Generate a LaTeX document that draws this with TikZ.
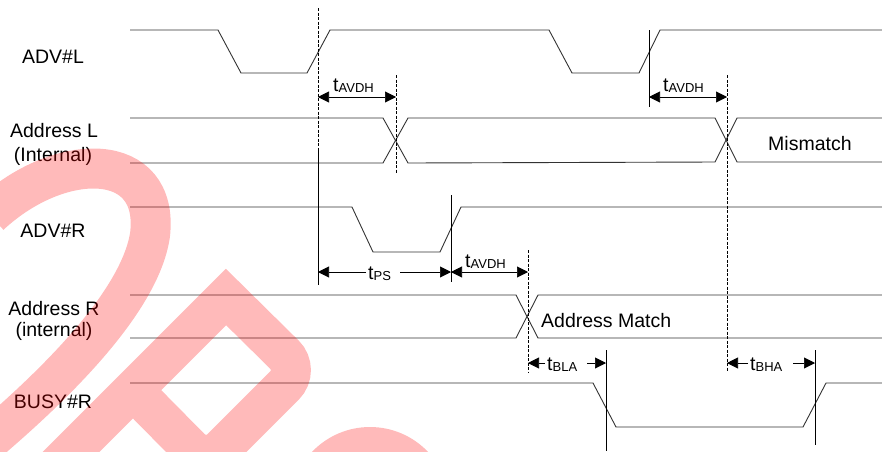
\documentclass[tikz,border=0pt]{standalone}
\usepackage{fontspec}
\setmainfont{Liberation Sans}
\usetikzlibrary{arrows.meta}

\newcommand{\tm}[1]{t\raisebox{-1pt}{\fontsize{13}{13}\selectfont #1}}

\begin{document}
\begin{tikzpicture}[x=1pt, y=-1pt,
    wave/.style={black!80, line width=0.9pt},
    guide/.style={black, line width=0.6pt},
    guidedash/.style={black, line width=0.6pt, dash pattern=on 3pt off 1.5pt},
    dimtwo/.style={black, line width=0.6pt, {Triangle[length=11pt,width=11pt]}-{Triangle[length=11pt,width=11pt]}},
    dimone/.style={black, line width=0.6pt, -{Triangle[length=11pt,width=11pt]}},
    lbl/.style={font=\fontsize{19.5}{22}\selectfont, anchor=base, inner sep=0pt},
    wmark/.style={red, opacity=0.27, line width=40pt}]

    \useasboundingbox (0,0) rectangle (882,451);

    % Signal names
    \foreach \n/\x/\y/\t in {advl/53/63/{ADV\#L}, adrl/54/137/{Address L}, adrli/53/161/{(Internal)},
        advr/53/237/{ADV\#R}, adrr/54/315/{Address R}, adrri/54/336/{(internal)}, busyr/53/408/{BUSY\#R}} {
        \node[lbl] (\n) at (\x, \y) {\t};
    }
    \node[lbl, anchor=base west] (mism) at (768, 150) {Mismatch};
    \node[lbl, anchor=base west] (amatch) at (541, 327) {Address Match};

    % Waveforms
    \draw[wave] (130,30) -- (218,30) -- (241,73) -- (307,73) -- (330,30) -- (549,30) -- (572,73) -- (639,73) -- (660,30) -- (882,30);
    \draw[wave] (130,118) -- (383,118) -- (408,163) -- (715,162) -- (737,118) -- (882,118);
    \draw[wave] (130,163) -- (383,163) -- (408,118) -- (715,118) -- (737,162) -- (882,162);
    \draw[wave] (130,207) -- (352,207) -- (373,252) -- (440,252) -- (461,207) -- (882,207);
    \draw[wave] (130,295) -- (516,295) -- (538,338) -- (882,338);
    \draw[wave] (130,338) -- (516,338) -- (538,295) -- (882,295);
    \draw[wave] (130,383) -- (593,383) -- (616,427) -- (803,427) -- (826,383) -- (882,383);

    % Timing references
    \coordinate (g1t) at (318,8);   \coordinate (g1m) at (318,150);  \coordinate (g1b) at (318,285);
    \coordinate (g2t) at (396,75);  \coordinate (g2b) at (396,173);
    \coordinate (g3t) at (649,30);  \coordinate (g3b) at (649,107);
    \coordinate (g4t) at (727,75);  \coordinate (g4b) at (727,372);
    \coordinate (g5t) at (451,195); \coordinate (g5b) at (451,282);
    \coordinate (g6t) at (528,250); \coordinate (g6b) at (528,373);
    \coordinate (g7t) at (606,350); \coordinate (g7b) at (606,451);
    \coordinate (g8t) at (815,350); \coordinate (g8b) at (815,445);
    \draw[guidedash] (g1t) -- (g1m);
    \draw[guide] (g1m) -- (g1b);
    \draw[guidedash] (g2t) -- (g2b);
    \draw[guide] (g3t) -- (g3b);
    \draw[guidedash] (g4t) -- (g4b);
    \draw[guide] (g5t) -- (g5b);
    \draw[guidedash] (g6t) -- (g6b);
    \draw[guide] (g7t) -- (g7b);
    \draw[guide] (g8t) -- (g8b);

    % tAVDH (left)
    \coordinate (a1) at (318,97); \coordinate (a2) at (396,97);
    \draw[dimtwo] (a1) -- (a2);
    \node[lbl, anchor=base west] (tavdha) at (333,91) {\tm{AVDH}};
    % tAVDH (left, second)
    \coordinate (b1) at (649,97); \coordinate (b2) at (727,97);
    \draw[dimtwo] (b1) -- (b2);
    \node[lbl, anchor=base west] (tavdhb) at (663,91) {\tm{AVDH}};
    % tPS
    \coordinate (p1) at (318,272); \coordinate (p2) at (451,272);
    \coordinate (p1e) at (366,272); \coordinate (p2e) at (400,272);
    \draw[dimone] (p1e) -- (p1);
    \draw[dimone] (p2e) -- (p2);
    \node[lbl, anchor=base west] (tps) at (368,279) {\tm{PS}};
    % tAVDH (right)
    \coordinate (c1) at (451,272); \coordinate (c2) at (528,272);
    \draw[dimtwo] (c1) -- (c2);
    \node[lbl, anchor=base west] (tavdhc) at (465,267) {\tm{AVDH}};
    % tBLA
    \coordinate (d1) at (528,363); \coordinate (d2) at (606,363);
    \coordinate (d1e) at (545,363); \coordinate (d2e) at (587,363);
    \draw[dimone] (d1e) -- (d1);
    \draw[dimone] (d2e) -- (d2);
    \node[lbl, anchor=base west] (tbla) at (547,370) {\tm{BLA}};
    % tBHA
    \coordinate (e1) at (727,363); \coordinate (e2) at (815,363);
    \coordinate (e1e) at (748,363); \coordinate (e2e) at (793,363);
    \draw[dimone] (e1e) -- (e1);
    \draw[dimone] (e2e) -- (e2);
    \node[lbl, anchor=base west] (tbha) at (750,370) {\tm{BHA}};

    % Watermark
    \draw[wmark] (-10,215) .. controls (60,150) and (160,150) .. (150,235) .. controls (140,300) and (60,380) .. (-10,440);
    \draw[wmark] (40,483) -- (226,297) [rounded corners=22pt] -- (300,370) -- (206,464) -- (133,390);
    \fill[red, opacity=0.27] (370,507) circle (80);
\end{tikzpicture}
\end{document}
